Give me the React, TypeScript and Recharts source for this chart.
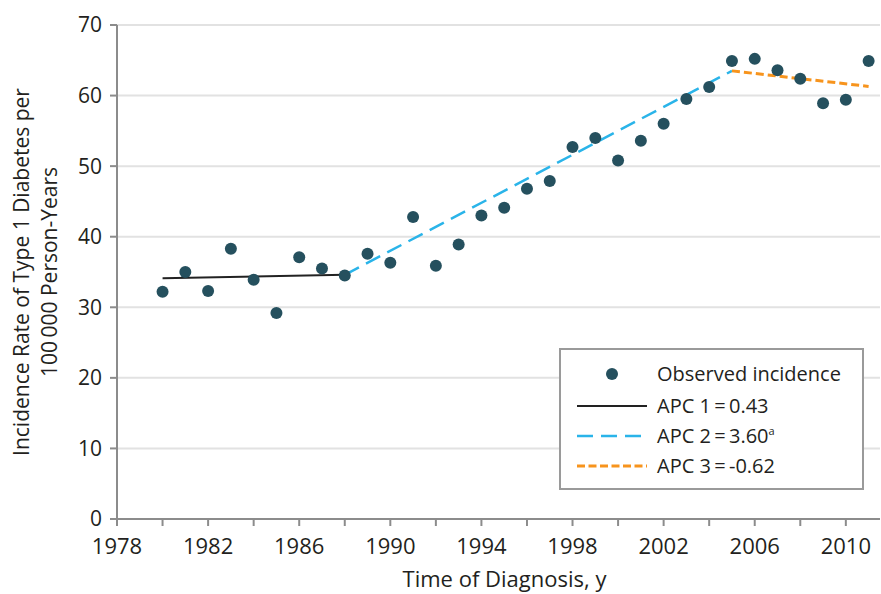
import { ComposedChart, Scatter, Line, XAxis, YAxis, CartesianGrid, Legend } from "recharts";

const years = [
  1980, 1981, 1982, 1983, 1984, 1985, 1986, 1987, 1988, 1989, 1990, 1991, 1992, 1993, 1994, 1995,
  1996, 1997, 1998, 1999, 2000, 2001, 2002, 2003, 2004, 2005, 2006, 2007, 2008, 2009, 2010, 2011,
];
const incidence = [
  32.2, 35.0, 32.3, 38.3, 33.9, 29.2, 37.1, 35.5, 34.5, 37.6, 36.3, 42.8, 35.9, 38.9, 43.0, 44.1,
  46.8, 47.9, 52.7, 54.0, 50.8, 53.6, 56.0, 59.5, 61.2, 64.9, 65.2, 63.6, 62.4, 58.9, 59.4, 64.9,
];

// joinpoint segments: [start year, end year] and fitted values at those ends
const apc1Years = [1980, 1988];
const apc1Fit = [34.1, 34.6];
const apc2Years = [1988, 2005];
const apc2Fit = [34.6, 63.5];
const apc3Years = [2005, 2011];
const apc3Fit = [63.5, 61.3];

const xTicks = [1978, 1980, 1982, 1984, 1986, 1988, 1990, 1992, 1994, 1996, 1998, 2000, 2002, 2004, 2006, 2008, 2010];
const xLabels = ["1978", "1982", "1986", "1990", "1994", "1998", "2002", "2006", "2010"];
const yTicks = [0, 10, 20, 30, 40, 50, 60, 70];

const observed = years.map((year, i) => ({ year, value: incidence[i] }));
const seg = (ys: number[], vs: number[]) => ys.map((year, i) => ({ year, value: vs[i] }));

const DOT = "#25505e";
const BLUE = "#2ab4e9";
const ORANGE = "#f7941d";
const TEXT = "#231f20";
const AXIS = "#8c8c8c";

const FONT = "'Open Sans', 'Noto Sans', sans-serif";

function LegendBox() {
  const rows = [
    { label: "APC 1\u2009=\u20090.43", color: "#222", dash: undefined, width: 2 },
    { label: "APC 2\u2009=\u20093.60", color: BLUE, dash: "16 8", width: 2.5, sup: "a" },
    { label: "APC 3\u2009=\u2009-0.62", color: ORANGE, dash: "8 3.5", width: 3 },
  ];
  return (
    <div
      style={{
        width: 305,
        height: 142,
        boxSizing: "border-box",
        border: "2px solid #9a9a9a",
        background: "#fff",
      }}
    >
      <svg width={301} height={138} style={{ display: "block", fontFamily: FONT }}>
        <circle cx={51} cy={24} r={6} fill={DOT} />
        <text x={96} y={24} dy="0.35em" fontSize={20} fill={TEXT}>
          Observed incidence
        </text>
        {rows.map((r, i) => (
          <g key={r.label}>
            <line
              x1={16}
              x2={86}
              y1={56 + i * 30}
              y2={56 + i * 30}
              stroke={r.color}
              strokeWidth={r.width}
              strokeDasharray={r.dash}
            />
            <text x={96} y={56 + i * 30} dy="0.35em" fontSize={20} fill={TEXT}>
              {r.label}
              {r.sup && (
                <tspan fontSize={11} dy={-8}>
                  {r.sup}
                </tspan>
              )}
            </text>
          </g>
        ))}
      </svg>
    </div>
  );
}

function YTitle(props: any) {
  const vb = props.viewBox || { x: 0, y: 25, width: 117, height: 494 };
  const cy = vb.y + vb.height / 2;
  return (
    <g fontFamily={FONT} fontSize={21} fill={TEXT}>
      <text x={29} y={cy} textAnchor="middle" transform={`rotate(-90, 29, ${cy})`}>
        Incidence Rate of Type 1 Diabetes per
      </text>
      <text x={57} y={cy} textAnchor="middle" transform={`rotate(-90, 57, ${cy})`}>
        100{"\u2009"}000 Person-Years
      </text>
    </g>
  );
}

function XTitle(props: any) {
  const vb = props.viewBox || { x: 117, y: 519, width: 763, height: 75 };
  return (
    <text
      x={vb.x + vb.width / 2 + 6}
      y={vb.y + 68}
      textAnchor="middle"
      fontFamily={FONT}
      fontSize={22}
      fill={TEXT}
    >
      Time of Diagnosis, y
    </text>
  );
}

export default function App() {
  return (
    <div style={{ position: "absolute", left: 0, top: 0, width: 881, height: 594, background: "#fff", fontFamily: FONT }}>
      <ComposedChart width={881} height={594} margin={{ top: 25, right: 1, left: 0, bottom: 0 }}>
        <CartesianGrid horizontal vertical={false} stroke="#e2e2e2" strokeWidth={2} />
        <XAxis
          dataKey="year"
          type="number"
          domain={[1978, 2011.5]}
          ticks={xTicks}
          tickFormatter={(v: number) => (xLabels.includes(String(v)) ? String(v) : "")}
          height={75}
          tickSize={7}
          tickMargin={12}
          stroke={AXIS}
          strokeWidth={2}
          tick={{ fill: TEXT, fontSize: 22 }}
          allowDataOverflow
          label={{ content: (p: any) => <XTitle {...p} /> }}
        />
        <YAxis
          type="number"
          domain={[0, 70]}
          ticks={yTicks}
          width={117}
          tickSize={7}
          tickMargin={8}
          stroke={AXIS}
          strokeWidth={2}
          tick={{ fill: TEXT, fontSize: 21 }}
          label={{ content: (p: any) => <YTitle {...p} /> }}
        />
        <Line
          data={seg(apc1Years, apc1Fit)}
          dataKey="value"
          type="linear"
          stroke="#222"
          strokeWidth={2}
          dot={false}
          activeDot={false}
          isAnimationActive={false}
        />
        <Line
          data={seg(apc2Years, apc2Fit)}
          dataKey="value"
          type="linear"
          stroke={BLUE}
          strokeWidth={2.5}
          strokeDasharray="16 8"
          dot={false}
          activeDot={false}
          isAnimationActive={false}
        />
        <Line
          data={seg(apc3Years, apc3Fit)}
          dataKey="value"
          type="linear"
          stroke={ORANGE}
          strokeWidth={3}
          strokeDasharray="8 4"
          dot={false}
          activeDot={false}
          isAnimationActive={false}
        />
        <Scatter
          data={observed}
          dataKey="value"
          isAnimationActive={false}
          shape={(p: any) => <circle cx={p.cx} cy={p.cy} r={6} fill={DOT} />}
        />
        <Legend
          layout="vertical"
          align="center"
          verticalAlign="middle"
          wrapperStyle={{ left: 559, top: 348, width: 305, height: 142 }}
          content={() => <LegendBox />}
        />
      </ComposedChart>
    </div>
  );
}
